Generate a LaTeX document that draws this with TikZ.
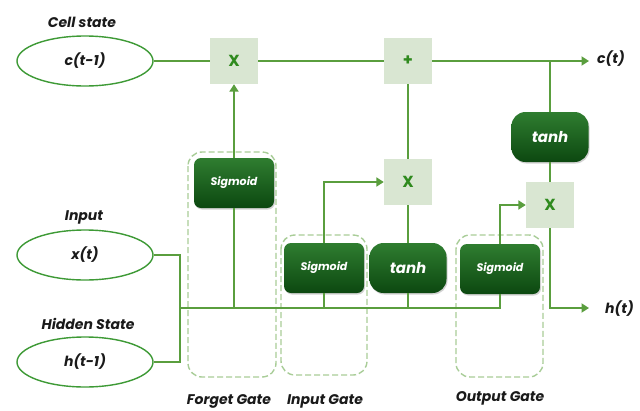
\documentclass[tikz,border=0pt]{standalone}
\usepackage{fontspec}
\setmainfont{Poppins}
\usetikzlibrary{arrows.meta,shapes.geometric,shadows}
\definecolor{lineg}{HTML}{5A9E3E}
\definecolor{ellg}{HTML}{3E9A36}
\definecolor{boxg}{HTML}{D9E6D2}
\definecolor{xg}{HTML}{2F8A1E}
\definecolor{dtop}{HTML}{2F7D30}
\definecolor{dbot}{HTML}{0C4810}
\definecolor{dashg}{HTML}{A9CD98}
\definecolor{txt}{HTML}{1A1A1A}
\tikzset{
  conn/.style={draw=lineg,line width=2.6pt},
  arr/.style={conn,-{Triangle[length=7.5pt,width=9pt]}},
  ell/.style={ellipse,draw=ellg,line width=1.4pt,minimum width=136pt,minimum height=50pt,inner sep=0pt,font=\fontsize{14}{16}\selectfont\bfseries\itshape,text=txt},
  opbox/.style={rectangle,fill=boxg,minimum width=48pt,minimum height=46pt,inner sep=0pt,font=\fontsize{16}{18}\selectfont\bfseries,text=xg},
  sigbox/.style={rectangle,rounded corners=7pt,top color=dtop,bottom color=dbot,minimum width=80pt,minimum height=50pt,inner sep=0pt,font=\fontsize{11}{13}\selectfont\bfseries\itshape,text=white,drop shadow={shadow xshift=1pt,shadow yshift=-1.5pt,opacity=0.35}},
  tanhbox/.style={rectangle,rounded corners=14pt,top color=dtop,bottom color=dbot,minimum width=77pt,minimum height=50pt,inner sep=0pt,font=\fontsize{15}{17}\selectfont\bfseries\itshape,text=white,drop shadow={shadow xshift=1pt,shadow yshift=-1.5pt,opacity=0.35}},
  gatebox/.style={draw=dashg,line width=1.4pt,dash pattern=on 6pt off 3pt,rounded corners=14pt},
  lbl/.style={font=\fontsize{14}{16}\selectfont\bfseries\itshape,text=txt,inner sep=0pt},
}
\begin{document}
\begin{tikzpicture}[x=1pt,y=-1pt]
\useasboundingbox[fill=white] (0,0) rectangle (640,410);
% gate dashed boxes
\draw[gatebox] (188,152) rectangle (276,377);
\draw[gatebox] (281,235) rectangle (367,375);
\draw[gatebox] (456,235) rectangle (543,377);
% ellipses
\node[ell] (ct1) at (85,61) {c(t-1)};
\node[ell] (xt) at (85,255) {x(t)};
\node[ell] (ht1) at (85,362) {h(t-1)};
\node[lbl] (lcs) at (82,22) {Cell state};
\node[lbl] (lin) at (84,217) {Input};
\node[lbl] (lhs) at (88,324) {Hidden State};
% op boxes
\node[opbox] (m1) at (234,61) {X};
\node[opbox] (plus) at (408,61) {+};
\node[opbox] (m2) at (408,182) {X};
\node[opbox] (m3) at (550,205) {X};
% activation boxes
\node[sigbox] (sf) at (234,183) {Sigmoid};
\node[sigbox] (si) at (324,268) {Sigmoid};
\node[tanhbox] (tc) at (408,268) {tanh};
\node[sigbox] (so) at (500,269) {Sigmoid};
\node[tanhbox] (to) at (550,137) {tanh};
% coordinates
\coordinate (busL) at (180,308);
\coordinate (ctout) at (589,61);
\coordinate (htout) at (589,308);
\node[lbl,anchor=west] (lct) at (597,59) {c(t)};
\node[lbl,anchor=west] (lht) at (605,309) {h(t)};
% cell line
\draw[conn] (ct1.east) -- (m1.west);
\draw[conn] (m1.east) -- (plus.west);
\draw[arr] (plus.east) -- (ctout);
\draw[conn] (to.north) -- (to.north |- plus.east);
\draw[conn] (to.south) -- (m3.north);
\draw[arr] (m3.south) |- (htout);
% inputs and bus
\draw[conn] (xt.east) -| (busL) |- (ht1.east);
\draw[conn] (busL) -- (so.south |- busL) -- (so.south);
\draw[conn] (sf.south) -- (sf.south |- busL);
\draw[conn] (si.south) -- (si.south |- busL);
\draw[conn] (tc.south) -- (tc.south |- busL);
% gate outputs
\draw[arr] (sf.north) -- (m1.south);
\draw[arr] (si.north) |- (m2.west);
\draw[conn] (tc.north) -- (m2.south);
\draw[conn] (m2.north) -- (plus.south);
\draw[arr] (so.north) |- (m3.west);
% gate labels
\node[lbl] (lfg) at (229,401) {Forget Gate};
\node[lbl] (lig) at (325,401) {Input Gate};
\node[lbl] (log) at (500,398) {Output Gate};
\end{tikzpicture}
\end{document}
